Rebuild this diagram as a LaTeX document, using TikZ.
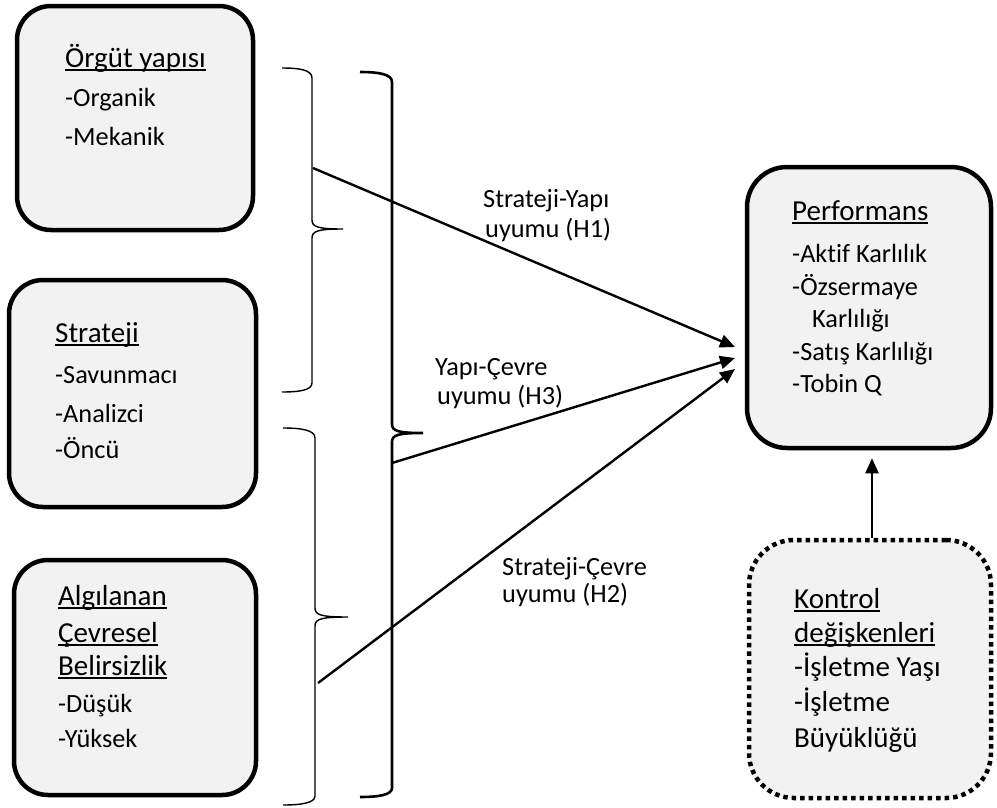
\documentclass[tikz,border=0pt]{standalone}
\usepackage{fontspec}
\setmainfont{Carlito}[Ligatures=NoCommon]
\usetikzlibrary{arrows.meta}
\definecolor{boxgray}{HTML}{F2F2F2}

% underline drawn close to the baseline, through the descenders
\newcommand\ulw[1]{\setbox0\hbox{#1}\rlap{\rule[-3.6pt]{\wd0}{1.5pt}}\box0}

\begin{document}
\begin{tikzpicture}[x=1pt,y=-1pt,
  box/.style={draw, line width=4.5pt, fill=boxgray, rounded corners=34pt,
    inner sep=0pt},
  dotbox/.style={draw, line width=4.5pt, dash pattern=on 4.5pt off 4pt,
    fill=boxgray, rounded corners=45pt, inner sep=0pt},
  txt/.style={anchor=base west, inner sep=0pt, font=\fontsize{26.3}{30}\selectfont},
  head/.style={anchor=base west, inner sep=0pt, font=\fontsize{29}{34}\selectfont},
  thinbrace/.style={line width=1.4pt},
  thickbrace/.style={line width=2.6pt},
  link/.style={line width=2.4pt, -{Triangle[length=15pt,width=13pt]}}
]
\useasboundingbox (0,0) rectangle (997,807);

% boxes
\node[box, minimum width=236pt, minimum height=224pt] (org) at (135,118) {};
\node[box, minimum width=247pt, minimum height=227pt] (str) at (132.5,393.5) {};
\node[box, minimum width=242pt, minimum height=235pt] (env) at (135,677.5) {};
\node[box, rounded corners=40pt, minimum width=244pt, minimum height=281pt] (perf) at (869,307.5) {};
\node[dotbox, minimum width=242pt, minimum height=258pt] (ctrl) at (870,669) {};

% box texts
\node[head] (org1) at (65,67) {\ulw{Örgüt yapısı}};
\node[txt]  (org2) at (65,106) {-Organik};
\node[txt]  (org3) at (65,145) {-Mekanik};

\node[head] (str1) at (55,342) {\ulw{Strateji}};
\node[txt]  (str2) at (55,383) {-Savunmacı};
\node[txt]  (str3) at (55,422) {-Analizci};
\node[txt]  (str4) at (55,458) {-Öncü};

\node[head] (env1) at (58,605) {\ulw{Algılanan}};
\node[head] (env2) at (58,642) {\ulw{Çevresel}};
\node[head] (env3) at (58,675) {\ulw{Belirsizlik}};
\node[txt]  (env4) at (58,712) {-Düşük};
\node[txt]  (env5) at (58,747) {-Yüksek};

\node[head] (perf1) at (792,220) {\ulw{Performans}};
\node[txt]  (perf2) at (792,262) {-Aktif Karlılık};
\node[txt]  (perf3) at (792,295) {-Özsermaye};
\node[txt]  (perf4) at (812,327) {Karlılığı};
\node[txt]  (perf5) at (792,360) {-Satış Karlılığı};
\node[txt]  (perf6) at (792,392) {-Tobin Q};

\node[head] (ctrl1) at (794,608) {\ulw{Kontrol}};
\node[head] (ctrl2) at (794,642) {\ulw{değişkenleri}};
\node[head] (ctrl3) at (794,676) {-İşletme Yaşı};
\node[head] (ctrl4) at (794,711) {-İşletme};
\node[head] (ctrl5) at (794,747) {Büyüklüğü};

% braces grouping the pairs of variables
\draw[thinbrace] (282,68) .. controls (300,68) and (312,70) .. (312,78)
  -- (312,220) .. controls (312,227) and (318,229) .. (343,229)
  .. controls (318,229) and (312,231) .. (312,238)
  -- (312,383) .. controls (312,390) and (300,392) .. (282,392);
\draw[thickbrace] (360,72) .. controls (378,72) and (392,74) .. (392,82)
  -- (392,424) .. controls (392,431) and (398,433) .. (423,433)
  .. controls (398,433) and (392,435) .. (392,442)
  -- (392,788) .. controls (392,795) and (378,797) .. (360,797);
\draw[thinbrace] (283,428) .. controls (301,428) and (315,430) .. (315,438)
  -- (315,608) .. controls (315,615) and (321,617) .. (348,617)
  .. controls (321,617) and (315,619) .. (315,626)
  -- (315,796) .. controls (315,803) and (301,805) .. (283,805);

% fit relations
\coordinate (sA) at (313,168);
\coordinate (sB) at (392,463);
\coordinate (sC) at (318,683);
\coordinate (tA) at (735,347);
\coordinate (tB) at (735,358);
\coordinate (tC) at (735,369);
\draw[link] (sA) -- (tA);
\draw[link] (sB) -- (tB);
\draw[link] (sC) -- (tC);
\draw[link] (ctrl.north -| 872,0) -- ([yshift=-8pt]perf.south -| 872,0);

% relation labels
\node[txt] (l1a) at (483,207) {Strateji-Yapı};
\node[txt] (l1b) at (485,237) {uyumu (H1)};
\node[txt] (l3a) at (435,375) {Yapı-Çevre};
\node[txt] (l3b) at (437,404) {uyumu (H3)};
\node[txt] (l2a) at (502,575) {Strateji-Çevre};
\node[txt] (l2b) at (502,602) {uyumu (H2)};
\end{tikzpicture}
\end{document}
